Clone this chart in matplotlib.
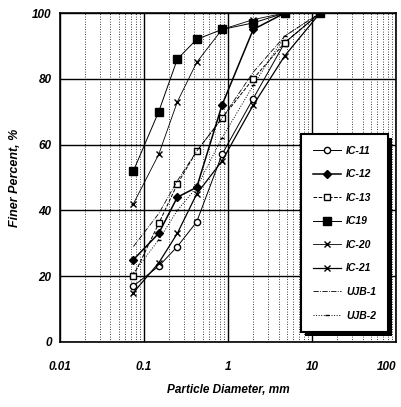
import numpy as np
import matplotlib.pyplot as plt
from matplotlib.ticker import FixedLocator, NullFormatter
import matplotlib.patheffects as pe

plt.rcParams['font.family'] = ['Liberation Sans', 'DejaVu Sans']

# sieve sizes, mm
sizes = [0.075, 0.15, 0.25, 0.425, 0.85, 2.0, 4.75, 12.5]

ic11 = [17, 23, 29, 36.5, 57, 74, 91, 100]
ic12 = [25, 33, 44, 47, 72, 95, 100, 100]
ic13 = [20, 36, 48, 58, 68, 80, 91, 100]
ic19 = [52, 70, 86, 92, 95, 97, 100, 100]
ic20 = [42, 57, 73, 85, 95, 98, 100, 100]
ic21 = [15, 24, 33, 45, 55, 72, 87, 100]
ujb1 = [29, 39, 49, 58, 68, 82, 93, 100]
ujb2 = [21, 31, 40, 47, 62, 78, 93, 100]

labels = ["IC-11", "IC-12", "IC-13", "IC19", "IC-20", "IC-21", "UJB-1", "UJB-2"]
series = [ic11, ic12, ic13, ic19, ic20, ic21, ujb1, ujb2]
styles = [
    dict(marker='o', mfc='white', ls='-', lw=0.7, ms=4.5),
    dict(marker='D', mfc='black', ls='-', lw=1.1, ms=4.5),
    dict(marker='s', mfc='white', ls='--', lw=0.7, ms=4.5),
    dict(marker='s', mfc='black', ls='-', lw=0.7, ms=5.5),
    dict(marker='x', ls='-', lw=0.6, ms=4.5),
    dict(marker='x', ls='-', lw=0.9, ms=4.5),
    dict(marker=None, ls='-.', lw=0.6),
    dict(marker='_', ls=':', lw=0.7, ms=3.5),
]

fig = plt.figure(figsize=(4.02, 4.07), dpi=100)
ax = fig.add_axes([0.149, 0.160, 0.836, 0.808])

for y, lab, st in zip(series, labels, styles):
    ax.plot(sizes, y, color='black', mec='black', label=lab, **st)

ax.set_xscale('log')
ax.set_xlim(0.01, 100)
ax.set_ylim(0, 100)
ax.set_yticks([0, 20, 40, 60, 80, 100])
ax.set_xticks([0.01, 0.1, 1, 10, 100])
ax.set_xticklabels(["0.01", "0.1", "1", "10", "100"])
ax.xaxis.set_minor_locator(FixedLocator(
    [m * 10.0 ** e for e in range(-2, 2) for m in range(2, 10)]))
ax.xaxis.set_minor_formatter(NullFormatter())
ax.tick_params(axis='both', which='both', length=0, pad=14)
ax.tick_params(axis='y', pad=6)
for t in ax.get_xticklabels() + ax.get_yticklabels():
    t.set_fontweight('bold')
    t.set_fontstyle('italic')
    t.set_fontsize(8.5)
ax.get_xticklabels()[-1].set_horizontalalignment('right')

ax.grid(True, which='major', color='black', lw=1.0)
ax.grid(True, which='minor', axis='x', color='black', lw=0.6, ls=(0, (1, 2)))
ax.set_axisbelow(True)
for sp in ax.spines.values():
    sp.set_linewidth(1.2)

ax.set_xlabel("Particle Diameter, mm", fontsize=8.5, fontweight='bold',
              fontstyle='italic', labelpad=8)
ax.set_ylabel("Finer Percent, %", fontsize=9, fontweight='bold',
              fontstyle='italic', labelpad=8)

leg = ax.legend(loc='lower right', bbox_to_anchor=(0.975, 0.03), fontsize=7.5,
                frameon=True, fancybox=False, edgecolor='black', framealpha=1.0,
                facecolor='white', labelspacing=1.3, handlelength=2.7,
                handletextpad=0.5, borderpad=1.1, borderaxespad=0)
frame = leg.get_frame()
frame.set_linewidth(1.5)
frame.set_path_effects([pe.SimplePatchShadow(offset=(3, -3), shadow_rgbFace='black', alpha=1.0), pe.Normal()])
for t in leg.get_texts():
    t.set_fontweight('bold')
    t.set_fontstyle('italic')

fig.savefig("out.png", dpi=100)
